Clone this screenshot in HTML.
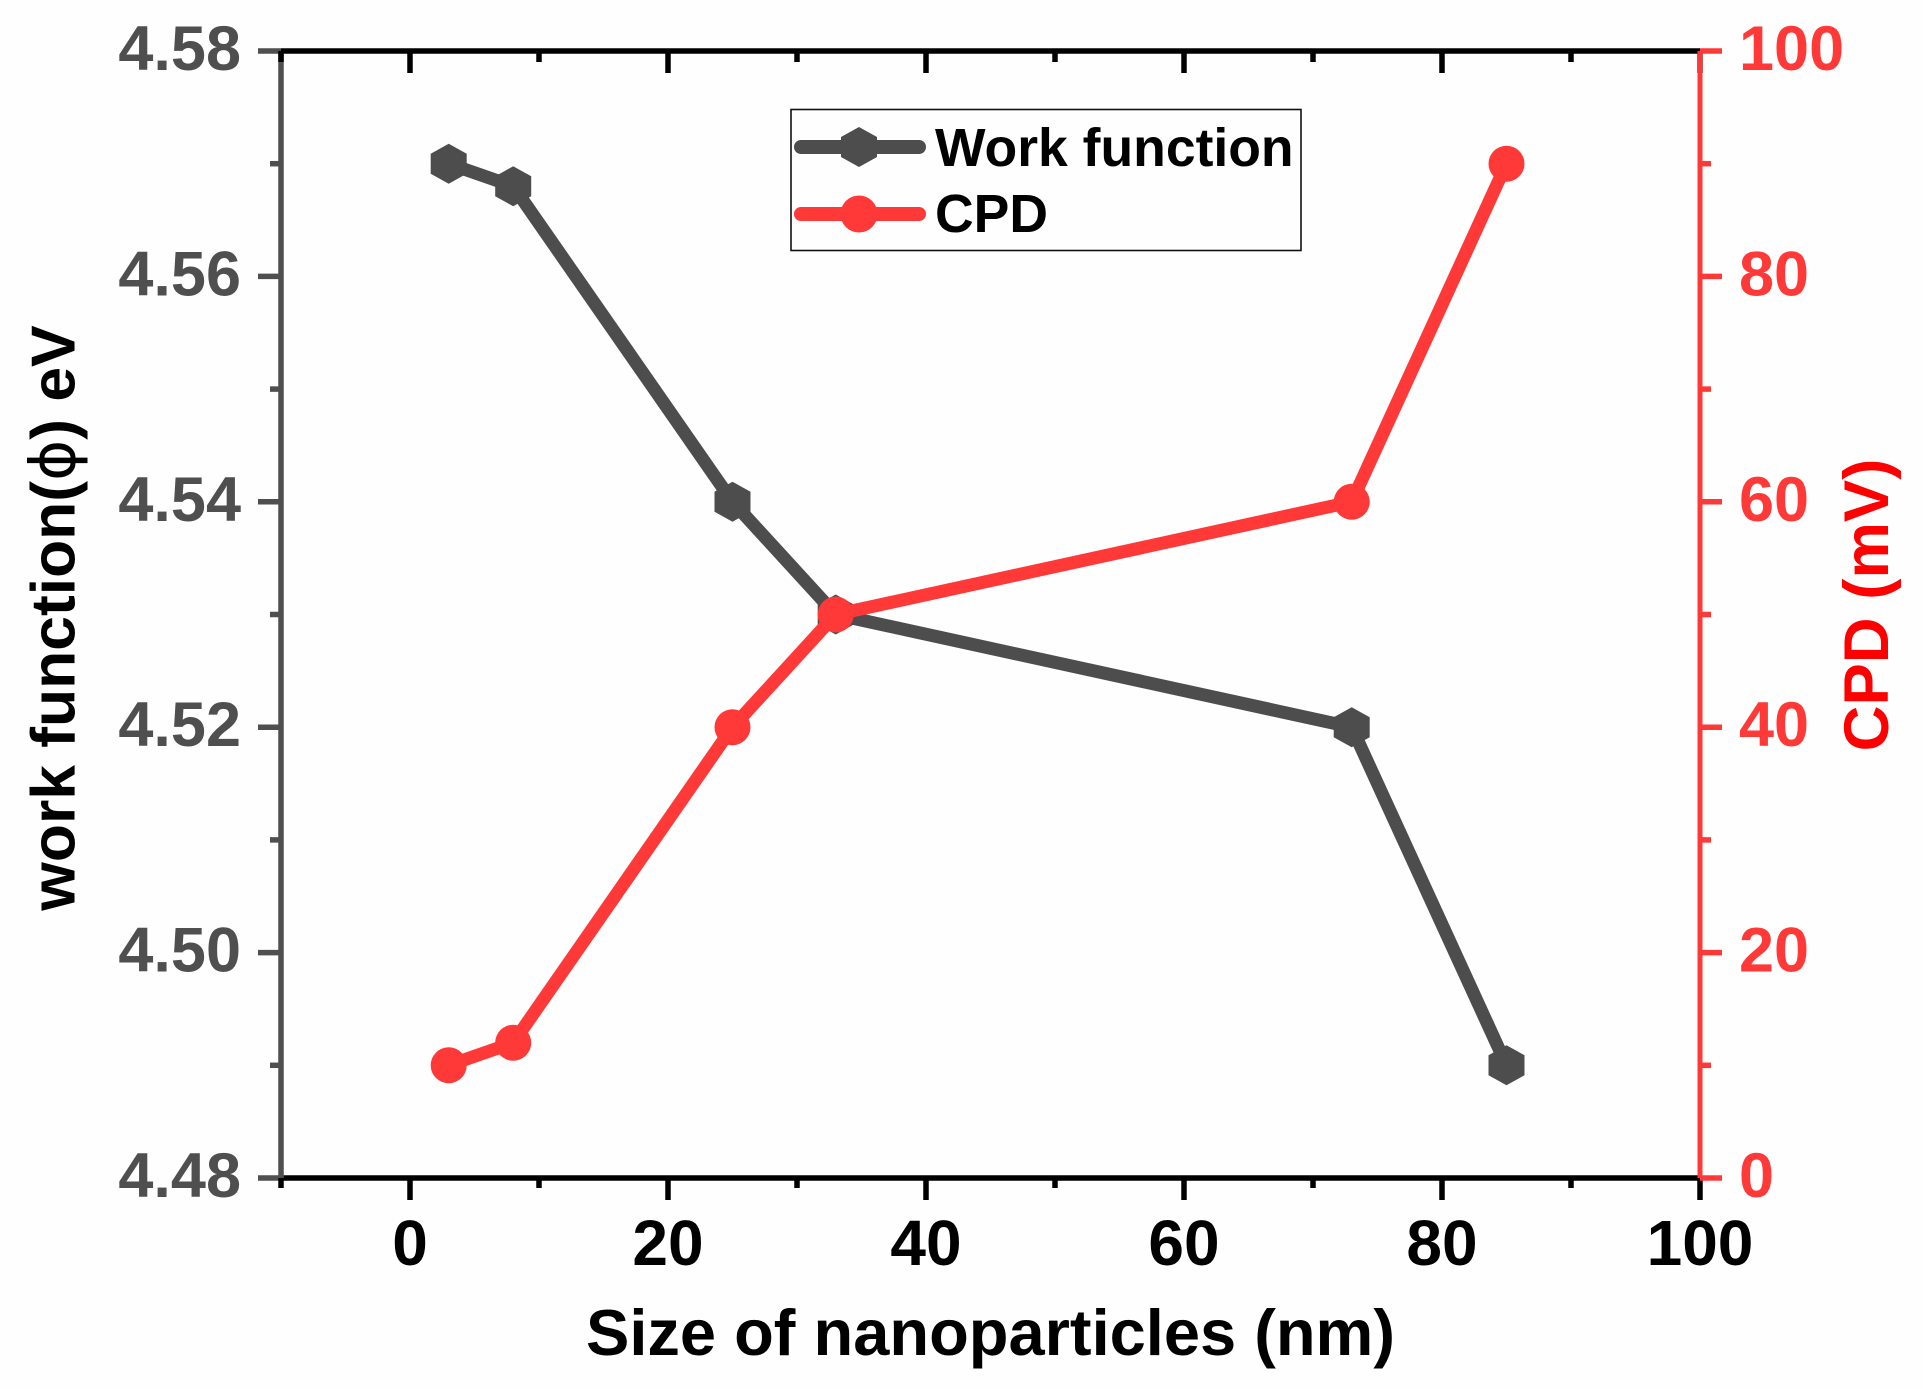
<!DOCTYPE html>
<html lang="en">
<head>
<meta charset="utf-8">
<title>Work function and CPD versus nanoparticle size</title>
<style>
html,body{margin:0;padding:0;background:#fefefe;}
#chart{display:block;width:1923px;height:1389px;font-family:"Liberation Sans",Arial,sans-serif;font-weight:700;}
</style>
</head>
<body>
<svg id="chart" xmlns="http://www.w3.org/2000/svg" width="1923" height="1389" viewBox="0 0 1923 1389">
  <rect width="1923" height="1389" fill="#fefefe"/>
  <g id="axes-black"></g>
  <g id="axis-left"></g>
  <g id="series"></g>
  <g id="axis-right"></g>
  <g id="legend">
    <rect x="791" y="109.5" width="510" height="141" fill="#fefefe" stroke="#111" stroke-width="1.6"/>
    <line x1="801" x2="919" y1="147" y2="147" stroke="#4d4d4d" stroke-width="14" stroke-linecap="round"/>
    <polygon points="859,127 877,137 877,157 859,167 841,157 841,137" fill="#4d4d4d"/>
    <text x="935" y="166" font-size="53.5" fill="#000">Work function</text>
    <line x1="801" x2="919" y1="214" y2="214" stroke="#ff3838" stroke-width="14" stroke-linecap="round"/>
    <circle cx="859" cy="214" r="18.5" fill="#ff3838"/>
    <text x="935" y="232" font-size="53.5" fill="#000">CPD</text>
  </g>
  <text x="990.5" y="1355" font-size="65" text-anchor="middle" fill="#000">Size of nanoparticles (nm)</text>
  <text transform="translate(74.5 618) rotate(-90)" font-size="62.4" text-anchor="middle" fill="#000">work function(<tspan font-family="'DejaVu Sans',sans-serif" font-weight="400">ϕ</tspan>) eV</text>
  <text transform="translate(1888 605) rotate(-90)" font-size="63.5" text-anchor="middle" fill="#ff0000">CPD (mV)</text>
</svg>
<script>
const sizes = [3, 8, 25, 33, 73, 85];
const workFunction = [4.57, 4.568, 4.54, 4.53, 4.52, 4.49];
const cpd = [10, 12, 40, 50, 60, 90];
const xTickLabels = [0, 20, 40, 60, 80, 100];
const xMinorTicks = [-10, 10, 30, 50, 70, 90];
const leftTickLabels = ["4.48", "4.50", "4.52", "4.54", "4.56", "4.58"];
const leftMinorTicks = [4.49, 4.51, 4.53, 4.55, 4.57];
const rightTickLabels = [0, 20, 40, 60, 80, 100];
const rightMinorTicks = [10, 30, 50, 70, 90];

const NS = 'http://www.w3.org/2000/svg';
const PLOT = { left: 281, right: 1700, top: 51, bottom: 1178 };
const DOMAIN = { xMin: -10, xMax: 100, leftMin: 4.48, leftMax: 4.58, rightMin: 0, rightMax: 100 };
const GRAY = '#4f4f4f', RED = '#ff3838', BLACK = '#000';

function xScale(v) {
  return PLOT.left + (v - DOMAIN.xMin) / (DOMAIN.xMax - DOMAIN.xMin) * (PLOT.right - PLOT.left);
}
function leftScale(v) {
  return PLOT.bottom - (v - DOMAIN.leftMin) / (DOMAIN.leftMax - DOMAIN.leftMin) * (PLOT.bottom - PLOT.top);
}
function rightScale(v) {
  return PLOT.bottom - (v - DOMAIN.rightMin) / (DOMAIN.rightMax - DOMAIN.rightMin) * (PLOT.bottom - PLOT.top);
}
function seg(parent, x1, y1, x2, y2, color, width) {
  const el = document.createElementNS(NS, 'line');
  el.setAttribute('x1', x1);
  el.setAttribute('y1', y1);
  el.setAttribute('x2', x2);
  el.setAttribute('y2', y2);
  el.setAttribute('stroke', color);
  el.setAttribute('stroke-width', width);
  parent.appendChild(el);
  return el;
}
function label(parent, x, y, text, color, anchor, size) {
  const el = document.createElementNS(NS, 'text');
  el.setAttribute('x', x);
  el.setAttribute('y', y);
  el.setAttribute('font-size', size);
  el.setAttribute('fill', color);
  el.setAttribute('text-anchor', anchor);
  el.textContent = text;
  parent.appendChild(el);
  return el;
}

const blackAxes = document.getElementById('axes-black');
const leftAxis = document.getElementById('axis-left');
const rightAxis = document.getElementById('axis-right');
const seriesGroup = document.getElementById('series');

/* x axes, bottom and top */
let el = seg(blackAxes, PLOT.left, PLOT.bottom, PLOT.right, PLOT.bottom, BLACK, 5.5);


el = seg(blackAxes, PLOT.left, PLOT.top, PLOT.right, PLOT.top, BLACK, 5.5);



/* left y axis is drawn before the black minor tick so the corner stays black */
el = seg(leftAxis, PLOT.left, PLOT.top, PLOT.left, PLOT.bottom, GRAY, 5.5);


leftTickLabels.forEach(function (t) {
  const y = leftScale(parseFloat(t));
  const tick = seg(leftAxis, 258, y, PLOT.left, y, GRAY, 5.5);
  
  
  const txt = label(leftAxis, 241, y + 19, t, GRAY, 'end', 63);
  
  
});
leftMinorTicks.forEach(function (t) {
  const y = leftScale(t);
  const tick = seg(leftAxis, 270, y, PLOT.left, y, GRAY, 5.5);
  
  
});

xTickLabels.forEach(function (t) {
  const x = xScale(t);
  const bottomTick = seg(blackAxes, x, PLOT.bottom, x, 1200, BLACK, 5.5);
  
  
  const topTick = seg(blackAxes, x, PLOT.top, x, 73, BLACK, 5.5);
  
  
  const txt = label(blackAxes, x, 1265, String(t), BLACK, 'middle', 64);
  
  
});
xMinorTicks.forEach(function (t) {
  const x = xScale(t);
  const bottomTick = seg(leftAxis, x, PLOT.bottom, x, 1188, BLACK, 5.5);
  
  
  const topTick = seg(leftAxis, x, PLOT.top, x, 62, BLACK, 5.5);
  
  
});

/* work function series */
const wfLine = document.createElementNS(NS, 'polyline');


wfLine.setAttribute('points', sizes.map(function (s, i) { return xScale(s) + ',' + leftScale(workFunction[i]); }).join(' '));
wfLine.setAttribute('fill', 'none');
wfLine.setAttribute('stroke', '#4d4d4d');
wfLine.setAttribute('stroke-width', '13');
wfLine.setAttribute('stroke-linejoin', 'round');
seriesGroup.appendChild(wfLine);

sizes.forEach(function (s, i) {
  const cx = xScale(s), cy = leftScale(workFunction[i]);
  const hex = document.createElementNS(NS, 'polygon');
  
  
  hex.setAttribute('points', [[0, -20], [18, -10], [18, 10], [0, 20], [-18, 10], [-18, -10]].map(function (p) {
    return (cx + p[0]) + ',' + (cy + p[1]);
  }).join(' '));
  hex.setAttribute('fill', '#4d4d4d');
  seriesGroup.appendChild(hex);
});

/* CPD series */
const cpdLine = document.createElementNS(NS, 'polyline');


cpdLine.setAttribute('points', sizes.map(function (s, i) { return xScale(s) + ',' + rightScale(cpd[i]); }).join(' '));
cpdLine.setAttribute('fill', 'none');
cpdLine.setAttribute('stroke', RED);
cpdLine.setAttribute('stroke-width', '13');
cpdLine.setAttribute('stroke-linejoin', 'round');
seriesGroup.appendChild(cpdLine);

sizes.forEach(function (s, i) {
  const dot = document.createElementNS(NS, 'circle');
  
  
  dot.setAttribute('cx', xScale(s));
  dot.setAttribute('cy', rightScale(cpd[i]));
  dot.setAttribute('r', '18');
  dot.setAttribute('fill', RED);
  seriesGroup.appendChild(dot);
});

/* right y axis */
el = seg(rightAxis, PLOT.right, PLOT.top, PLOT.right, PLOT.bottom, RED, 5);


rightTickLabels.forEach(function (t) {
  const y = rightScale(t);
  const tick = seg(rightAxis, PLOT.right, y, 1722, y, RED, 5.5);
  
  
  const txt = label(rightAxis, 1739, y + 19, String(t), RED, 'start', 63);
  
  
});
rightMinorTicks.forEach(function (t) {
  const y = rightScale(t);
  const tick = seg(rightAxis, PLOT.right, y, 1711, y, RED, 5.5);
  
  
});
</script>
</body>
</html>
